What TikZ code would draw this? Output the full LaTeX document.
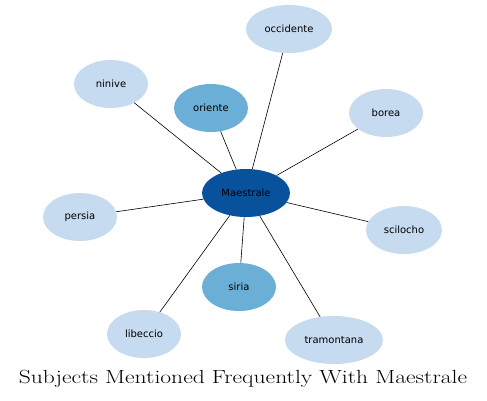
\documentclass[tikz,border=0pt]{standalone}
\usepackage{fontspec}
\newfontfamily\labelfont{DejaVu Sans}
\usetikzlibrary{shapes.geometric}
\definecolor{hubblue}{HTML}{08519C}
\definecolor{midblue}{HTML}{6BAED6}
\definecolor{paleblue}{HTML}{C6DBEF}

\begin{document}
\begin{tikzpicture}[x=1pt, y=-1pt, line width=0.6pt, line cap=round, line join=round,
    every node/.style={font=\labelfont\fontsize{10}{12}\selectfont},
    topic/.style={ellipse, fill=paleblue, inner sep=0pt, minimum width=74pt, minimum height=48pt},
    near/.style={topic, fill=midblue},
    hub/.style={topic, fill=hubblue, minimum width=88pt}]
  \useasboundingbox (0,0) rectangle (487,400);

  \node[hub] (maestrale) at (246,193) {Maestrale};
  \node[topic, minimum width=86pt] (occidente) at (289,29) {occidente};
  \node[topic] (ninive) at (111,84) {ninive};
  \node[near] (oriente) at (211,108) {oriente};
  \node[topic] (borea) at (386,113) {borea};
  \node[topic] (persia) at (80,217) {persia};
  \node[topic, minimum width=76pt] (scilocho) at (404,230) {scilocho};
  \node[near] (siria) at (239,287) {siria};
  \node[topic] (libeccio) at (144,334) {libeccio};
  \node[topic, minimum width=98pt] (tramontana) at (334,340) {tramontana};

  \foreach \n in {occidente,ninive,oriente,borea,persia,scilocho,siria,libeccio,tramontana}
    \draw (maestrale) -- (\n);

  \node[font=\fontsize{19}{22}\selectfont] (title) at (243,379) {\scalebox{1.24}[1]{Subjects Mentioned Frequently With Maestrale}};
\end{tikzpicture}
\end{document}
